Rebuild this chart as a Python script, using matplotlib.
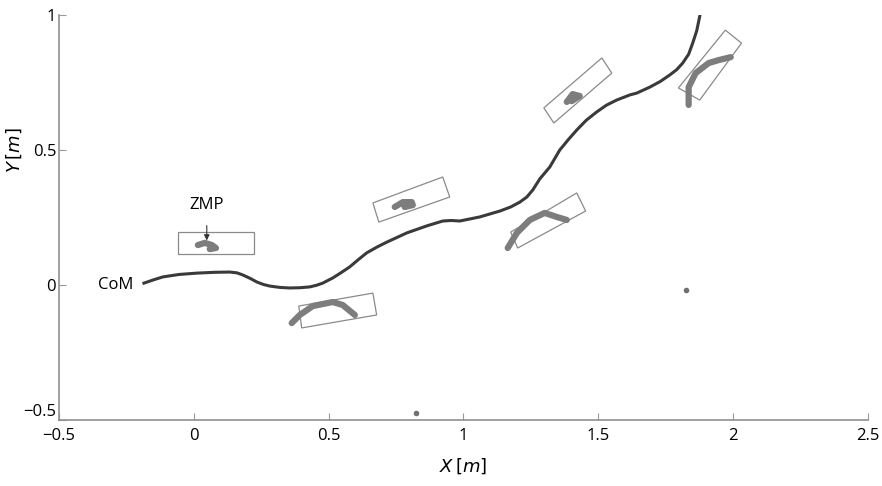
import numpy as np
import matplotlib.pyplot as plt
from matplotlib.patches import Polygon

# CoM trajectory
com_x = [-0.185, -0.150, -0.115, -0.055, 0.011, 0.075, 0.133, 0.160, 0.182, 0.208,
         0.234, 0.258, 0.282, 0.320, 0.356, 0.395, 0.430, 0.455, 0.478,
         0.515, 0.545, 0.578, 0.610, 0.641, 0.680, 0.716, 0.790, 0.864, 0.923,
         0.955, 0.986, 1.060, 1.135, 1.175, 1.209, 1.235, 1.257, 1.283, 1.320,
         1.357, 1.390, 1.420, 1.455, 1.494, 1.530, 1.568, 1.617, 1.643,
         1.691, 1.730, 1.765, 1.790, 1.813, 1.835, 1.850, 1.865, 1.876]
com_y = [0.007, 0.019, 0.030, 0.039, 0.044, 0.047, 0.048, 0.045, 0.037, 0.025,
         0.011, 0.002, -0.004, -0.009, -0.011, -0.010, -0.007, -0.001, 0.007,
         0.026, 0.045, 0.067, 0.094, 0.119, 0.141, 0.159, 0.193, 0.219, 0.237,
         0.239, 0.237, 0.252, 0.274, 0.289, 0.307, 0.326, 0.352, 0.393, 0.437,
         0.500, 0.540, 0.574, 0.610, 0.641, 0.666, 0.685, 0.704, 0.711,
         0.733, 0.754, 0.778, 0.797, 0.822, 0.855, 0.896, 0.942, 0.995]

# footprints (corner x, corner y)
foot_x = [
    [-0.059, 0.222, 0.222, -0.059],
    [0.389, 0.664, 0.678, 0.400],
    [0.664, 0.923, 0.949, 0.686],
    [1.175, 1.420, 1.453, 1.201],
    [1.298, 1.513, 1.550, 1.335],
    [1.797, 1.971, 2.031, 1.876],
]
foot_y = [
    [0.196, 0.196, 0.115, 0.115],
    [-0.078, -0.030, -0.111, -0.159],
    [0.304, 0.400, 0.326, 0.233],
    [0.196, 0.341, 0.274, 0.137],
    [0.656, 0.841, 0.785, 0.600],
    [0.730, 0.944, 0.896, 0.685],
]

# ZMP traces
zmp_x = [
    [0.015, 0.041, 0.067, 0.082, 0.059],
    [0.363, 0.393, 0.441, 0.515, 0.552, 0.597],
    [0.745, 0.775, 0.808, 0.812, 0.782],
    [1.164, 1.198, 1.246, 1.301, 1.346, 1.383],
    [1.383, 1.405, 1.431, 1.401],
    [1.835, 1.835, 1.861, 1.909, 1.946, 1.991],
]
zmp_y = [
    [0.148, 0.156, 0.148, 0.137, 0.133],
    [-0.141, -0.111, -0.078, -0.063, -0.074, -0.111],
    [0.289, 0.307, 0.307, 0.296, 0.289],
    [0.137, 0.193, 0.241, 0.267, 0.252, 0.241],
    [0.678, 0.707, 0.700, 0.681],
    [0.667, 0.733, 0.785, 0.822, 0.833, 0.844],
]

# stray points
dot_x = [1.824, 0.823]
dot_y = [-0.019, -0.474]

xticks = [-0.5, 0, 0.5, 1, 1.5, 2, 2.5]
xtick_labels = ["\u22120.5", "0", "0.5", "1", "1.5", "2", "2.5"]
yticks = [-0.5, 0, 0.5, 1]
ytick_labels = ["\u22120.5", "0", "0.5", "1"]

plt.rcParams['font.family'] = ['Open Sans', 'DejaVu Sans']

fig = plt.figure(figsize=(8.82, 4.86), dpi=100)
ax = fig.add_axes([0.0669, 0.1358, 0.9172, 0.8333])

for fx, fy in zip(foot_x, foot_y):
    ax.add_patch(Polygon(np.column_stack([fx, fy]), closed=True, fill=False,
                         edgecolor='#8a8a8a', lw=0.9))

for zx, zy in zip(zmp_x, zmp_y):
    ax.plot(zx, zy, color='#7d7d7d', lw=4.5, solid_capstyle='round',
            solid_joinstyle='round')

ax.plot(dot_x, dot_y, 'o', color='#707070', ms=3)

ax.plot(com_x, com_y, color='#3a3a3a', lw=2.2, solid_joinstyle='round')

ax.text(-0.226, 0.0, "CoM", fontsize=12, ha='right', va='center')
ax.annotate("ZMP", xy=(0.048, 0.165), xytext=(0.048, 0.296),
            fontsize=12, ha='center', va='center',
            arrowprops=dict(arrowstyle='-|>', color='#333333', lw=0.8,
                            shrinkA=7, shrinkB=0, mutation_scale=8))

ax.set_xlim(-0.5, 2.5)
ax.set_ylim(-0.5, 1)
ax.set_xticks(xticks)
ax.set_xticklabels(xtick_labels)
ax.set_yticks(yticks)
ax.set_yticklabels(ytick_labels)
ax.tick_params(direction='in', length=5, color='#999999', labelsize=12)
ax.tick_params(axis='x', pad=6)
ax.tick_params(axis='y', pad=2)
ax.get_yticklabels()[0].set_va('bottom')

for s in ['top', 'right']:
    ax.spines[s].set_visible(False)
for s in ['left', 'bottom']:
    ax.spines[s].set_color('#909090')
    ax.spines[s].set_linewidth(1.2)

ax.set_xlabel(r"$X\,[m]$", fontsize=13, labelpad=9)
ax.set_ylabel(r"$Y\,[m]$", fontsize=13)
ax.yaxis.set_label_coords(-0.043, 0.667)

plt.savefig("out.png", dpi=100)
